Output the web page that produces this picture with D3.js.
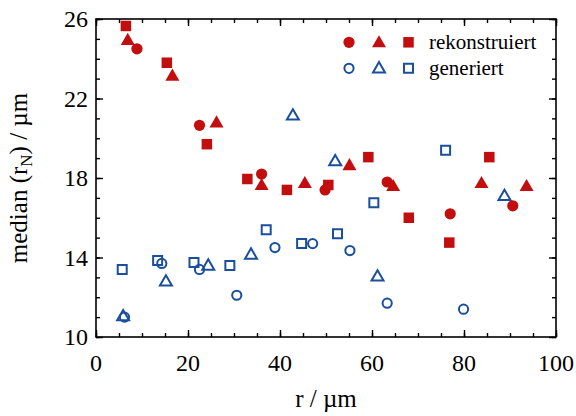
<!DOCTYPE html>
<html><head><meta charset="utf-8">
<script src="https://cdn.jsdelivr.net/npm/d3@7"></script>
</head>
<body style="margin:0"><svg id="c" width="576" height="416"></svg>
<script>
// ---- data ----
const recCircleX = [8.9, 22.5, 36.0, 49.8, 63.3, 77.0, 90.6];
const recCircleY = [24.5, 20.65, 18.2, 17.4, 17.8, 16.2, 16.6];
const recTriX = [6.9, 16.6, 26.2, 36.0, 45.4, 55.1, 64.6, 83.8, 93.6];
const recTriY = [25.0, 23.2, 20.85, 17.7, 17.8, 18.7, 17.65, 17.8, 17.65];
const recSqX = [6.5, 15.4, 24.1, 32.9, 41.5, 50.5, 59.2, 68.0, 76.8, 85.5];
const recSqY = [25.65, 23.8, 19.7, 17.95, 17.4, 17.65, 19.05, 16.0, 14.75, 19.05];
const genCircleX = [6.2, 14.3, 22.5, 30.6, 38.9, 47.1, 55.2, 63.3, 79.9];
const genCircleY = [11.0, 13.7, 13.4, 12.1, 14.5, 14.7, 14.35, 11.7, 11.4];
const genTriX = [5.9, 15.2, 24.4, 33.7, 42.8, 52.0, 61.2, 88.8];
const genTriY = [11.1, 12.85, 13.65, 14.2, 21.2, 18.9, 13.1, 17.15];
const genSqX = [5.7, 13.4, 21.3, 29.1, 37.0, 44.7, 52.5, 60.4, 76.0];
const genSqY = [13.4, 13.85, 13.75, 13.6, 15.4, 14.7, 15.2, 16.75, 19.4];

const xMajor = [0, 20, 40, 60, 80, 100];
const xMinor = d3.range(0, 101, 5);
const yMajor = [10, 14, 18, 22, 26];
const yMinor = d3.range(10, 27, 1);
const legendLabels = ["rekonstruiert", "generiert"];
const xTitle = "r / \u00B5m";
const yTitleParts = ["median (r", "N", ") / \u00B5m"];

// ---- layout ----
const FONT = "'Liberation Serif'";
const RED = "#c20e0e", BLUE = "#1a4f9d";
const L = 96, R = 556, T = 19, B = 337;
const svg = d3.select("#c");
const x = d3.scaleLinear().domain([0, 100]).range([L, R]);
const y = d3.scaleLinear().domain([10, 26]).range([B, T]);

function zip(a, b){ return a.map((v,i)=>[v,b[i]]); }

// text first (as in a page where the serif font rendered correctly)
const texts = [];
function addText(parent){ const t = parent.append("text").style("font-family", FONT).attr("fill","#000"); texts.push(t.node()); return t; }

const lg = svg.append("g");
const rows = [{y:42.3, filled:true, color:RED}, {y:68.3, filled:false, color:BLUE}];
rows.forEach((r,i)=>{
  addText(lg).attr("x", 429).attr("y", r.y + 6.8).attr("font-size", 21).text(legendLabels[i]);
});
addText(svg).attr("x", (L+R)/2).attr("y", 407).attr("text-anchor","middle").attr("font-size", 25).text(xTitle);
const yt = addText(svg).attr("transform",`translate(27,${(T+B)/2}) rotate(-90)`)
  .attr("text-anchor","middle").attr("font-size", 25);
yt.append("tspan").text(yTitleParts[0]);
yt.append("tspan").attr("dy", 5).attr("font-size", 17).text(yTitleParts[1]);
yt.append("tspan").attr("dy", -5).text(yTitleParts[2]);

// tick labels drawn as plain texts from the scales
const tickLab = svg.append("g");
xMajor.forEach(v => addText(tickLab).attr("x", x(v)).attr("y", B + 34).attr("text-anchor","middle").attr("font-size", 24).text(d3.format("d")(v)));
yMajor.forEach(v => addText(tickLab).attr("x", L - 8).attr("y", y(v)).attr("dy","0.34em").attr("text-anchor","end").attr("font-size", 24).text(d3.format("d")(v)));
// force layout of the texts
texts.forEach(n => { try { n.getComputedTextLength(); } catch(e){} });

function axisGroup(axis, tx, ty){
  const g = svg.append("g").attr("transform",`translate(${tx},${ty})`).call(axis);
  g.select(".domain").remove();
  g.selectAll("text").remove();
  g.selectAll("line").attr("stroke","#000").attr("stroke-width",1.4);
  return g;
}
axisGroup(d3.axisBottom(x).tickValues(xMinor).tickSize(-4), 0, B);
axisGroup(d3.axisTop(x).tickValues(xMinor).tickSize(-4), 0, T);
axisGroup(d3.axisLeft(y).tickValues(yMinor).tickSize(-4), L, 0);
axisGroup(d3.axisRight(y).tickValues(yMinor).tickSize(-4), R, 0);
axisGroup(d3.axisBottom(x).tickValues(xMajor).tickSize(-7), 0, B);
axisGroup(d3.axisTop(x).tickValues(xMajor).tickSize(-7), 0, T);
axisGroup(d3.axisLeft(y).tickValues(yMajor).tickSize(-7), L, 0);
axisGroup(d3.axisRight(y).tickValues(yMajor).tickSize(-7), R, 0);

svg.append("rect").attr("x",L).attr("y",T).attr("width",R-L).attr("height",B-T)
  .attr("fill","none").attr("stroke","#000").attr("stroke-width",1.6);

const S = {
  circleF: d3.symbol().type(d3.symbolCircle).size(Math.PI*5.6*5.6)(),
  squareF: d3.symbol().type(d3.symbolSquare).size(10.5*10.5)(),
  triF: d3.symbol().type(d3.symbolTriangle).size(Math.sqrt(3)/4*14*14)(),
  circleO: d3.symbol().type(d3.symbolCircle).size(Math.PI*4.6*4.6)(),
  squareO: d3.symbol().type(d3.symbolSquare).size(9*9)(),
  triO: d3.symbol().type(d3.symbolTriangle).size(Math.sqrt(3)/4*12*12)()
};
const triShiftF = (14*Math.sqrt(3)/2)/6, triShiftO = (12*Math.sqrt(3)/2)/6;

function plot(xs, ys, path, color, filled, shift){
  svg.append("g").selectAll("path").data(zip(xs, ys)).join("path")
    .attr("d", path)
    .attr("transform", d=>`translate(${x(d[0])},${y(d[1])+(shift||0)})`)
    .attr("fill", filled ? color : "none")
    .attr("stroke", filled ? "none" : color)
    .attr("stroke-width", filled ? 0 : 2);
}
plot(genCircleX, genCircleY, S.circleO, BLUE, false);
plot(genTriX, genTriY, S.triO, BLUE, false, triShiftO);
plot(genSqX, genSqY, S.squareO, BLUE, false);
plot(recCircleX, recCircleY, S.circleF, RED, true);
plot(recTriX, recTriY, S.triF, RED, true, triShiftF);
plot(recSqX, recSqY, S.squareF, RED, true);

rows.forEach((r)=>{
  const shapes = r.filled ? [S.circleF, S.triF, S.squareF] : [S.circleO, S.triO, S.squareO];
  const xs = [349, 379, 408.5];
  shapes.forEach((p,j)=>{
    const sh = j===1 ? (r.filled ? triShiftF : triShiftO) - 1 : 0;
    lg.append("path").attr("d", p).attr("transform",`translate(${xs[j]},${r.y+sh})`)
      .attr("fill", r.filled ? r.color : "none")
      .attr("stroke", r.filled ? "none" : r.color)
      .attr("stroke-width", r.filled ? 0 : 2);
  });
});
texts.forEach(n => { try { n.getComputedTextLength(); } catch(e){} });
</script></body></html>
